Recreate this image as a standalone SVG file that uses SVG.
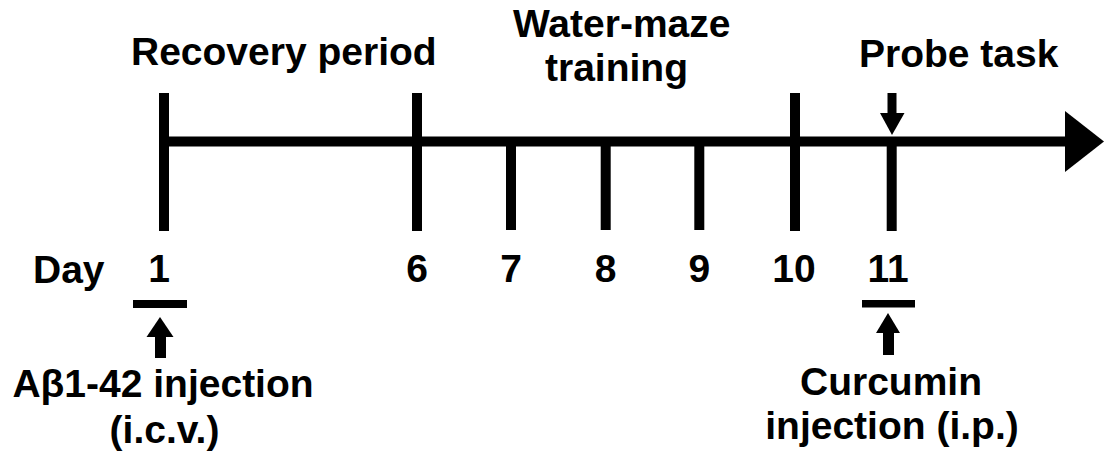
<svg xmlns="http://www.w3.org/2000/svg" width="1104" height="457" viewBox="0 0 1104 457">
<style>
text{font-family:"Liberation Sans",Arial,sans-serif;font-weight:bold;font-size:39px;fill:#000}
.m{text-anchor:middle}
.ln{stroke:#000;stroke-width:10;fill:none}
.ar{fill:#000;stroke:none}
</style>
<rect width="1104" height="457" fill="#fff"/>
<g id="connectors">
<line class="ln" x1="164" y1="141.5" x2="1068" y2="141.5"/>
<polygon class="ar" points="1065,111 1104,141.5 1065,172"/>
</g>
<g id="ticks">
<line class="ln" x1="164" y1="93" x2="164" y2="231"/>
<line class="ln" x1="417" y1="93" x2="417" y2="231"/>
<line class="ln" x1="511" y1="141" x2="511" y2="230"/>
<line class="ln" x1="605.7" y1="141" x2="605.7" y2="230"/>
<line class="ln" x1="699.3" y1="141" x2="699.3" y2="230"/>
<line class="ln" x1="795" y1="93" x2="795" y2="231"/>
<line class="ln" x1="891.7" y1="141" x2="891.7" y2="231"/>
</g>
<g id="headers">
<text x="131" y="65">Recovery period</text>
<text x="513" y="37">Water-maze</text>
<text x="545" y="81">training</text>
<text x="859" y="67">Probe task</text>
</g>
<g id="probe-arrow">
<rect class="ar" x="887.5" y="93" width="9" height="21"/>
<polygon class="ar" points="880,113 904.5,113 892,135"/>
</g>
<g id="day-labels">
<text x="33" y="283">Day</text>
<text class="m" x="159" y="282">1</text>
<text class="m" x="417" y="282">6</text>
<text class="m" x="511" y="282">7</text>
<text class="m" x="605.7" y="282">8</text>
<text class="m" x="699.3" y="282">9</text>
<text class="m" x="794" y="282">10</text>
<text class="m" x="888" y="282">11</text>
</g>
<g id="abeta-injection">
<rect class="ar" x="133" y="300" width="54" height="8"/>
<polygon class="ar" points="160,317 173.5,337 146.5,337"/>
<rect class="ar" x="155" y="336" width="11" height="22"/>
<text class="m" x="163" y="397">Aβ1-42 injection</text>
<text class="m" x="164.5" y="443">(i.c.v.)</text>
</g>
<g id="curcumin-injection">
<rect class="ar" x="862" y="300" width="53" height="7.5"/>
<polygon class="ar" points="888,313 900,333 876,333"/>
<rect class="ar" x="883" y="332" width="11" height="23"/>
<text class="m" x="891" y="395">Curcumin</text>
<text class="m" x="892" y="439">injection (i.p.)</text>
</g>
</svg>
